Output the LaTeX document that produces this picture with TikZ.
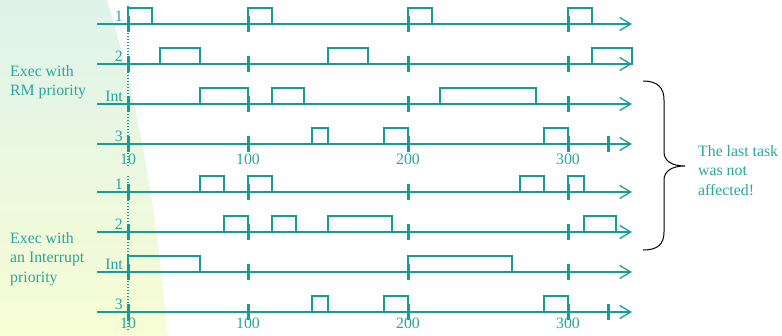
\documentclass[tikz,border=0pt]{standalone}
\usepackage{fontspec}
\setmainfont{Liberation Serif}
\usetikzlibrary{arrows.meta}

\definecolor{chartteal}{RGB}{22,156,150}
\definecolor{labelteal}{RGB}{40,165,157}
\definecolor{bgmint}{RGB}{223,243,235}
\definecolor{bgcream}{RGB}{247,253,212}

\tikzset{
  timeline/.style={draw=chartteal,line width=1.3pt,-{Straight Barb[length=11pt,width=13pt,line width=1.3pt]}},
  tickmark/.style={draw=chartteal,line width=3pt},
  taskbox/.style={draw=chartteal,line width=1.2pt},
  zeroline/.style={draw=chartteal,line width=1.1pt,dash pattern=on 1.1pt off 1.9pt},
  rowlabel/.style={anchor=base east,inner sep=0pt,text=labelteal},
  timelabel/.style={anchor=base,inner sep=0pt,text=labelteal},
  sidenote/.style={anchor=north west,inner sep=0pt,align=left,text=labelteal}
}

\begin{document}
\begin{tikzpicture}[x=1pt,y=-1pt,font=\fontsize{15.8}{19.5}\selectfont]
\useasboundingbox (0,0) rectangle (782,335);

% background wash on the left
\shade[top color=bgmint,bottom color=bgcream] (0,0) -- (107,0) .. controls (135,90) and (158,210) .. (167,335) -- (0,335) -- cycle;

% start of the schedule
\path[zeroline] (128,6) -- (128,166);
\path[zeroline] (128,176) -- (128,331);

%%% RM priority
\path[timeline] (97,24) -- (632,24);
\path[timeline] (97,64) -- (632,64);
\path[timeline] (97,104) -- (632,104);
\path[timeline] (97,144) -- (632,144);

\node[rowlabel] (ra) at (123,21) {1};
\node[rowlabel] (rb) at (123,61) {2};
\node[rowlabel] (ri) at (123,101) {Int};
\node[rowlabel] (rc) at (123,141) {3};

\draw[taskbox] (128,24) rectangle (152,8);
\draw[taskbox] (248,24) rectangle (272,8);
\draw[taskbox] (408,24) rectangle (432,8);
\draw[taskbox] (568,24) rectangle (592,8);

\draw[taskbox] (160,64) rectangle (200,48);
\draw[taskbox] (328,64) rectangle (368,48);
\draw[taskbox] (592,64) rectangle (632,48);

\draw[taskbox] (200,104) rectangle (248,88);
\draw[taskbox] (272,104) rectangle (304,88);
\draw[taskbox] (440,104) rectangle (536,88);

\draw[taskbox] (312,144) rectangle (328,128);
\draw[taskbox] (384,144) rectangle (408,128);
\draw[taskbox] (544,144) rectangle (568,128);

\path[tickmark] (128,16) -- (128,32) (248,16) -- (248,32) (408,16) -- (408,32) (568,16) -- (568,32);
\path[tickmark] (128,56) -- (128,72) (248,56) -- (248,72) (408,56) -- (408,72) (568,56) -- (568,72);
\path[tickmark] (128,96) -- (128,112) (248,96) -- (248,112) (408,96) -- (408,112) (568,96) -- (568,112);
\path[tickmark] (128,136) -- (128,152) (248,136) -- (248,152) (408,136) -- (408,152) (568,136) -- (568,152) (608,136) -- (608,152);

\node[timelabel] (ta0) at (128,164) {10};
\node[timelabel] (ta1) at (248,164) {100};
\node[timelabel] (ta2) at (408,164) {200};
\node[timelabel] (ta3) at (568,164) {300};

%%% Interrupt priority
\path[timeline] (97,192) -- (632,192);
\path[timeline] (97,232) -- (632,232);
\path[timeline] (97,272) -- (632,272);
\path[timeline] (97,312) -- (632,312);

\node[rowlabel] (sa) at (123,189) {1};
\node[rowlabel] (sb) at (123,229) {2};
\node[rowlabel] (si) at (123,269) {Int};
\node[rowlabel] (sc) at (123,309) {3};

\draw[taskbox] (200,192) rectangle (224,176);
\draw[taskbox] (248,192) rectangle (272,176);
\draw[taskbox] (520,192) rectangle (544,176);
\draw[taskbox] (568,192) rectangle (584,176);

\draw[taskbox] (224,232) rectangle (248,216);
\draw[taskbox] (272,232) rectangle (296,216);
\draw[taskbox] (328,232) rectangle (392,216);
\draw[taskbox] (584,232) rectangle (616,216);

\draw[taskbox] (128,272) rectangle (200,256);
\draw[taskbox] (408,272) rectangle (512,256);

\draw[taskbox] (312,312) rectangle (328,296);
\draw[taskbox] (384,312) rectangle (408,296);
\draw[taskbox] (544,312) rectangle (568,296);

\path[tickmark] (128,184) -- (128,200) (248,184) -- (248,200) (408,184) -- (408,200) (568,184) -- (568,200);
\path[tickmark] (128,224) -- (128,240) (248,224) -- (248,240) (408,224) -- (408,240) (568,224) -- (568,240);
\path[tickmark] (128,264) -- (128,280) (248,264) -- (248,280) (408,264) -- (408,280) (568,264) -- (568,280);
\path[tickmark] (128,304) -- (128,320) (248,304) -- (248,320) (408,304) -- (408,320) (568,304) -- (568,320) (608,304) -- (608,320);

\node[timelabel] (tb0) at (128,328) {10};
\node[timelabel] (tb1) at (248,328) {100};
\node[timelabel] (tb2) at (408,328) {200};
\node[timelabel] (tb3) at (568,328) {300};

% notes
\node[sidenote] (rm) at (10,65) {Exec with\\RM priority};
\node[sidenote] (irq) at (10,232) {Exec with\\an Interrupt\\priority};

\draw[line width=1pt] (643,81) .. controls (658,81) and (664,88) .. (664,100) -- (664,152)
  .. controls (664,161) and (672,166) .. (685,166) .. controls (672,166) and (664,171) .. (664,180)
  -- (664,232) .. controls (664,244) and (658,250) .. (643,250);
\node[sidenote] (note) at (698,145) {The last task\\was not\\affected!};
\end{tikzpicture}
\end{document}
